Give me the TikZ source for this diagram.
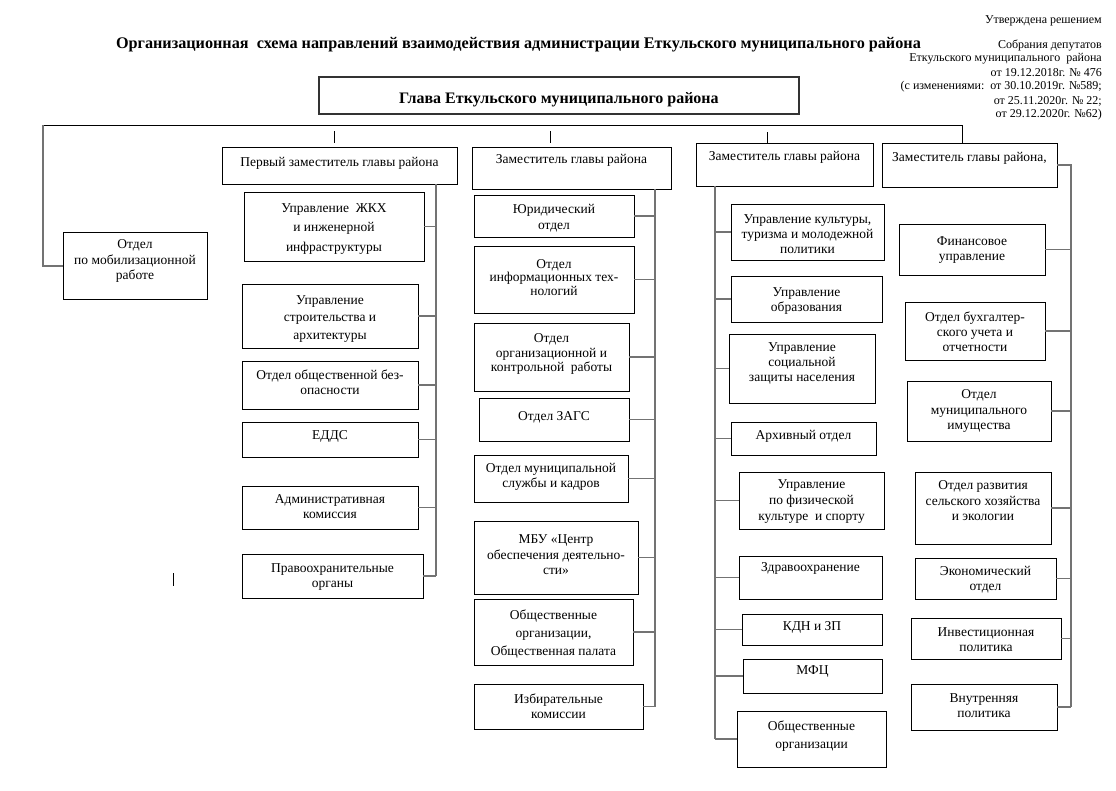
\documentclass[tikz,border=0pt]{standalone}
\usepackage{fontspec}
\setmainfont{Liberation Serif}
\tikzset{
 box/.style={draw=black, line width=0.9pt, inner sep=0pt, outer sep=0pt, rectangle},
 txt/.style={align=center, inner sep=0pt, font=\fontsize{13.5}{15.5}\selectfont},
 conn/.style={draw=black!55, line width=1.4pt},
 thinln/.style={draw=black, line width=0.9pt},
 note/.style={anchor=east, inner sep=0pt, font=\fontsize{12}{14}\selectfont},
}
\newcommand\bx[8][15.5]{%
 \node[box, minimum width={(#5-#3)*1pt}, minimum height={(#6-#4)*1pt}] (#2) at ({(#3+#5)/2},{(#4+#6)/2}) {};
 \node[txt, font=\fontsize{13.5}{#1}\selectfont] (#2t) at ({(#3+#5)/2},#7) {#8};
}
\begin{document}
\begin{tikzpicture}[x=1pt,y=-1pt]
\useasboundingbox (0,0) rectangle (1116,790);
% title
\node[inner sep=0pt, font=\fontsize{16.2}{19}\selectfont\bfseries] (title) at (518.5,45) {Организационная\ \ схема направлений взаимодействия администрации Еткульского муниципального района};
% note
\node[note] (n1) at (1102,21) {Утверждена решением};
\node[note] (n2) at (1102,45) {Собрания депутатов};
\node[note] (n3) at (1102,59) {Еткульского муниципального\ \ района};
\node[note] (n4) at (1102,73) {от 19.12.2018г. № 476};
\node[note] (n5) at (1102,87) {(с изменениями:\ \ от 30.10.2019г. №589;};
\node[note] (n6) at (1102,101) {от 25.11.2020г. № 22;};
\node[note] (n7) at (1102,115) {от 29.12.2020г. №62)};
% head
\node[box, line width=2pt, draw=black!80, minimum width=480pt, minimum height=37pt] (glava) at (559,95.5) {};
\node[inner sep=0pt, font=\fontsize{16}{19}\selectfont\bfseries] (glavat) at (559,100) {Глава Еткульского муниципального района};
% deputies
\bx{h1}{222}{147}{457}{184}{163}{Первый заместитель главы района}
\bx{h2}{472}{147}{671}{189}{160}{Заместитель главы района}
\bx{h3}{696}{143}{873}{186}{157}{Заместитель главы района}
\bx{h4}{882}{143}{1057}{187}{158}{Заместитель главы района,}
% left
\bx{mob}{63}{232}{207}{299}{261}{Отдел\\по мобилизационной\\работе}
% column 1
\bx[19.5]{zhkh}{244}{192}{424}{261}{229}{Управление\ \ ЖКХ\\и инженерной\\инфраструктуры}
\bx[17.5]{stroi}{242}{284}{418}{348}{319}{Управление\\строительства и\\архитектуры}
\bx[15]{bezop}{242}{361}{418}{409}{382}{Отдел общественной без-\\опасности}
\bx{edds}{242}{422}{418}{457}{436}{ЕДДС}
\bx[15]{admk}{242}{486}{418}{529}{507}{Административная\\комиссия}
\bx[15]{pravo}{242}{554}{423}{598}{577}{Правоохранительные\\органы}
% column 2
\bx[16]{yur}{474}{195}{634}{237}{218}{Юридический\\отдел}
\bx[13.5]{it}{474}{246}{634}{313}{277.5}{Отдел\\информационных тех-\\нологий}
\bx[14.5]{org}{474}{323}{629}{391}{354}{Отдел\\организационной и\\контрольной\ \ работы}
\bx{zags}{479}{398}{629}{441}{417}{Отдел ЗАГС}
\bx[15]{kadr}{474}{455}{628}{502}{477}{Отдел муниципальной\\службы и кадров}
\bx[15.5]{mbu}{474}{521}{638}{594}{555}{МБУ «Центр\\обеспечения деятельно-\\сти»}
\bx[18]{obsh}{474}{599}{633}{665}{634}{Общественные\\организации,\\Общественная палата}
\bx[15]{izb}{474}{684}{643}{729}{706}{Избирательные\\комиссии}
% column 3
\bx[15]{kult}{731}{204}{884}{260}{234.5}{Управление культуры,\\туризма и молодежной\\политики}
\bx[15]{obr}{731}{276}{882}{322}{301}{Управление\\образования}
\bx[15]{soc}{729}{334}{875}{403}{363.5}{Управление\\социальной\\защиты населения}
\bx{arh}{731}{422}{876}{455}{436}{Архивный отдел}
\bx[16]{fiz}{739}{472}{884}{529}{501.5}{Управление\\по физической\\культуре\ \ и спорту}
\bx{zdr}{739}{556}{882}{599}{568}{Здравоохранение}
\bx{kdn}{742}{614}{882}{645}{627}{КДН и ЗП}
\bx{mfc}{743}{659}{882}{693}{672}{МФЦ}
\bx[18]{obo}{737}{711}{886}{767}{736.5}{Общественные\\организации}
% column 4
\bx[15]{fin}{899}{224}{1045}{275}{250}{Финансовое\\управление}
\bx[15]{buh}{905}{302}{1045}{360}{331.5}{Отдел бухгалтер-\\ского учета и\\отчетности}
\bx[15.5]{imu}{907}{381}{1051}{441}{411}{Отдел\\муниципального\\имущества}
\bx[15.5]{selh}{915}{472}{1051}{544}{501}{Отдел развития\\сельского хозяйства\\и экологии}
\bx[15]{econ}{915}{558}{1056}{599}{580}{Экономический\\отдел}
\bx[15]{inv}{911}{618}{1061}{659}{640}{Инвестиционная\\политика}
\bx[15]{vnutr}{911}{684}{1057}{730}{706}{Внутренняя\\политика}
% connectors
\coordinate (lt) at (43,125);
\coordinate (rt) at (962,125);
\draw[thinln] (lt) -- (rt) -- (rt |- h4.north);
\draw[conn, line width=2pt] (lt) |- (mob.west);
\coordinate (t1) at (334,131);
\coordinate (t2) at (550,131);
\coordinate (t3) at (767,132);
\foreach \t in {t1,t2,t3} \draw[thinln] (\t) -- ++(0,12);
\coordinate (c1) at (436,0);
\coordinate (c2) at (655,0);
\coordinate (c3) at (715,0);
\coordinate (c4) at (1071,0);
\draw[conn] (h1.south -| c1) -- (pravo.east -| c1);
\foreach \b in {zhkh,stroi,bezop,edds,admk,pravo} \draw[conn] (\b.east) -- (\b.east -| c1);
\draw[conn] (h2.south -| c2) -- (izb.east -| c2);
\foreach \b in {yur,it,org,zags,kadr,mbu,obsh,izb} \draw[conn] (\b.east) -- (\b.east -| c2);
\draw[conn] (h3.south -| c3) -- (obo.west -| c3);
\foreach \b in {kult,obr,soc,arh,fiz,zdr,kdn,mfc,obo} \draw[conn] (\b.west -| c3) -- (\b.west);
\draw[conn] (h4.east) -- (h4.east -| c4) -- (vnutr.east -| c4);
\foreach \b in {fin,buh,imu,selh,econ,inv,vnutr} \draw[conn] (\b.east) -- (\b.east -| c4);
% stray mark
\coordinate (s1) at (173,573);
\draw[thinln] (s1) -- ++(0,13);
\end{tikzpicture}
\end{document}
